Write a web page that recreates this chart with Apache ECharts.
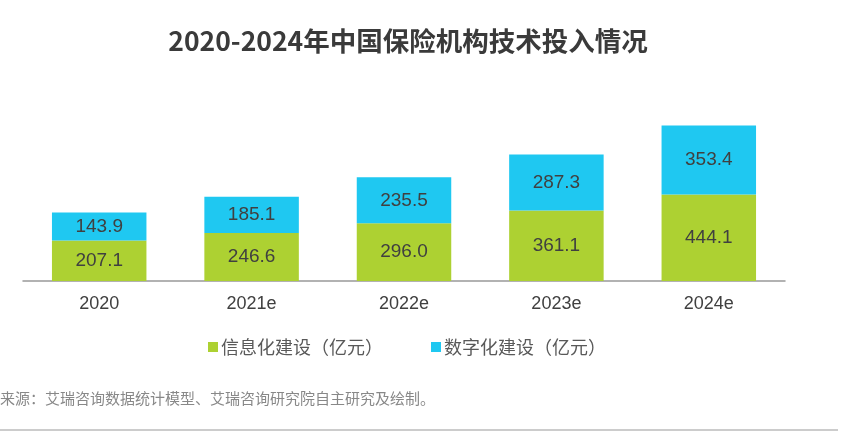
<!DOCTYPE html>
<html>
<head>
<meta charset="utf-8">
<script src="https://cdn.jsdelivr.net/npm/echarts@6/dist/echarts.min.js"></script>
<style>html,body{margin:0;padding:0;background:#fff;}#c{width:843px;height:437px;}</style>
</head>
<body>
<div id="c"></div>
<script>
const categories = ['2020', '2021e', '2022e', '2023e', '2024e'];
const infoBuild = [207.1, 246.6, 296.0, 361.1, 444.1];
const digitalBuild = [143.9, 185.1, 235.5, 287.3, 353.4];
const seriesNames = ['信息化建设（亿元）', '数字化建设（亿元）'];
const titleText = '2020-2024年中国保险机构技术投入情况';
const sourceText = '来源：艾瑞咨询数据统计模型、艾瑞咨询研究院自主研究及绘制。';

const FONT = '"Liberation Sans", "Noto Sans CJK SC", sans-serif';
const chart = echarts.init(document.getElementById('c'), null, {renderer: 'canvas'});
const labelStyle = {
  show: true, position: 'inside', fontSize: 19, color: '#404040', fontFamily: FONT,
  formatter: p => p.value.toFixed(1)
};
chart.setOption({
  animation: false,
  title: {
    text: titleText, left: 403, top: 23, textAlign: 'center',
    textStyle: {fontSize: 26.5, fontWeight: 'bold', color: '#3a3a3a', fontFamily: '"Noto Sans CJK SC", sans-serif'}
  },
  grid: {left: 23, right: 58, top: 125, bottom: 156},
  legend: {
    data: seriesNames, top: 333, left: 203, itemWidth: 10, itemHeight: 10, itemGap: 48,
    icon: 'rect',
    textStyle: {fontSize: 18, color: '#595959', fontFamily: '"Noto Sans CJK SC", sans-serif', padding: [0, 0, 0, -2]}
  },
  xAxis: {
    type: 'category', data: categories,
    axisLine: {lineStyle: {color: '#999', width: 1.5}},
    axisTick: {show: false},
    axisLabel: {fontSize: 18, color: '#404040', margin: 14, fontFamily: FONT}
  },
  yAxis: {type: 'value', min: 0, max: 800, show: false, splitLine: {show: false}},
  series: [
    {name: seriesNames[0], type: 'bar', stack: 't', data: infoBuild, barWidth: '62%',
     itemStyle: {color: '#add132'}, label: labelStyle},
    {name: seriesNames[1], type: 'bar', stack: 't', data: digitalBuild, barWidth: '62%',
     itemStyle: {color: '#1fc8f1'}, label: labelStyle}
  ],
  graphic: [
    {type: 'text', left: 0, top: 391,
     style: {text: sourceText, fontSize: 15, fill: '#888', fontFamily: '"Noto Sans CJK SC", sans-serif'}},
    {type: 'line', shape: {x1: 0, y1: 430, x2: 838, y2: 430}, style: {stroke: '#999', lineWidth: 1}}
  ]
});
</script>
</body>
</html>
